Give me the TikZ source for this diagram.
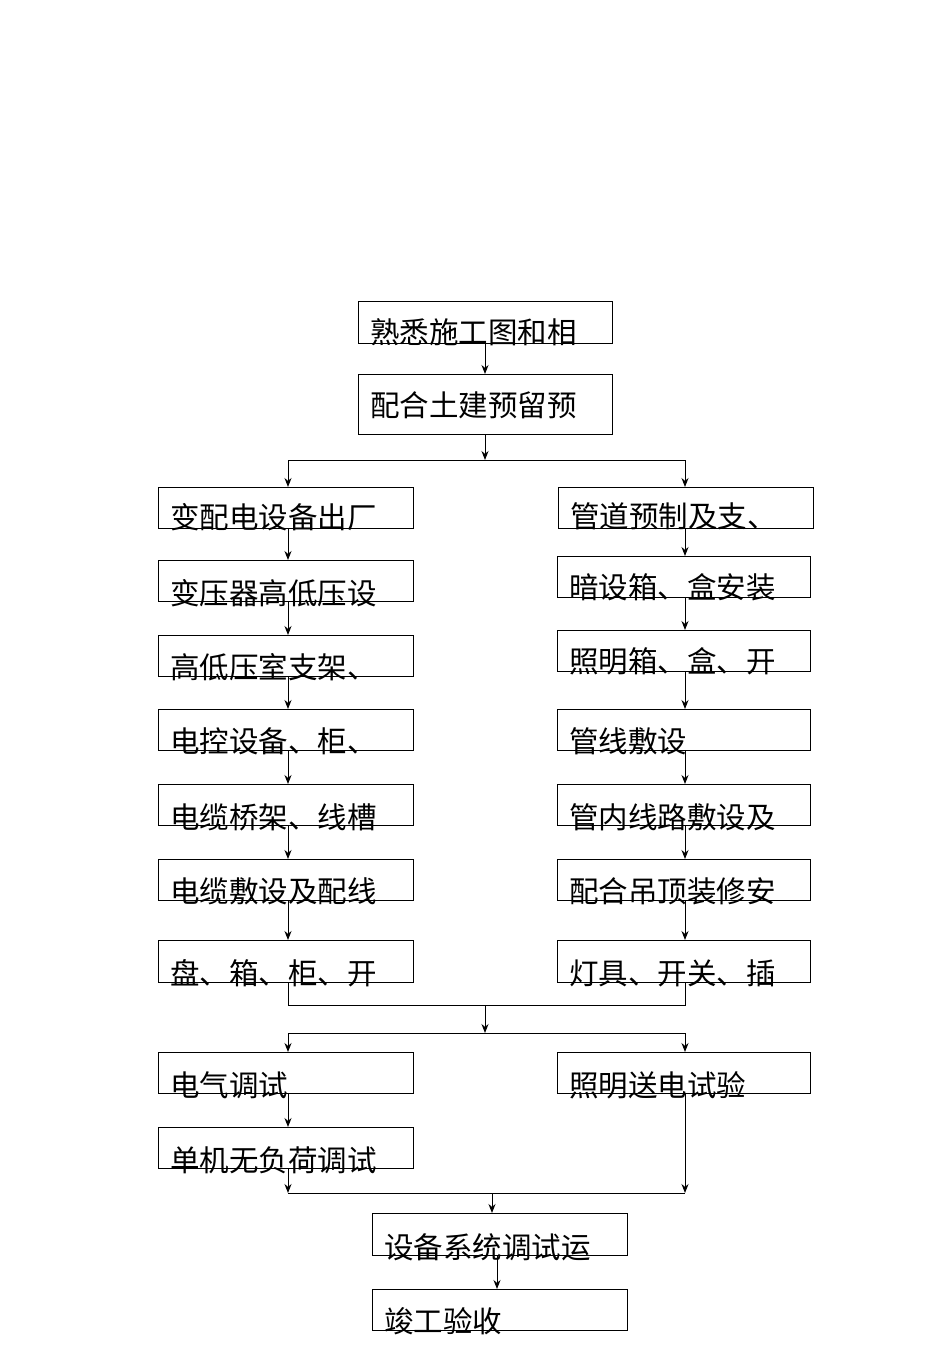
\documentclass[tikz,border=0pt]{standalone}
\usepackage{fontspec}
\newfontfamily\cjk{Noto Sans CJK SC}
\usetikzlibrary{arrows.meta}
\begin{document}
\begin{tikzpicture}[x=1pt,y=-1pt,
  bx/.style={draw,line width=1.3pt,minimum height=41pt,anchor=north west,inner sep=0},
  tx/.style={anchor=west,font=\cjk\fontsize{29.5}{29.5}\selectfont,inner sep=0},
  ar/.style={line width=1pt,-{Stealth[length=9pt,width=7pt]}},
  ln/.style={line width=1pt}]
\useasboundingbox (0,0) rectangle (950,1345);
\newcommand\bxx[7]{% name x1 y1 x2 y2 texty text
  \node[bx,minimum width=#4-#2,minimum height=#5-#3] (#1) at (#2,#3) {};
  \node[tx] (#1t) at (#2+12,#6) {#7};}
\bxx{a}{358}{301}{612}{343}{332}{熟悉施工图和相}
\bxx{b}{358}{374}{612}{434}{405}{配合土建预留预}
\bxx{l1}{158}{487}{413}{528}{517}{变配电设备出厂}
\bxx{l2}{158}{560}{413}{601}{593}{变压器高低压设}
\bxx{l3}{158}{635}{413}{676}{667}{高低压室支架、}
\bxx{l4}{158}{709}{413}{750}{741}{电控设备、柜、}
\bxx{l5}{158}{784}{413}{825}{817}{电缆桥架、线槽}
\bxx{l6}{158}{859}{413}{900}{891}{电缆敷设及配线}
\bxx{l7}{158}{940}{413}{982}{973}{盘、箱、柜、开}
\bxx{r1}{558}{487}{813}{528}{516}{管道预制及支、}
\bxx{r2}{557}{556}{810}{597}{587}{暗设箱、盒安装}
\bxx{r3}{557}{630}{810}{671}{661}{照明箱、盒、开}
\bxx{r4}{557}{709}{810}{750}{741}{管线敷设}
\bxx{r5}{557}{784}{810}{825}{817}{管内线路敷设及}
\bxx{r6}{557}{859}{810}{900}{891}{配合吊顶装修安}
\bxx{r7}{557}{940}{810}{982}{973}{灯具、开关、插}
\bxx{l8}{158}{1052}{413}{1093}{1085}{电气调试}
\bxx{r8}{557}{1052}{810}{1093}{1085}{照明送电试验}
\bxx{l9}{158}{1127}{413}{1168}{1160}{单机无负荷调试}
\bxx{c1}{372}{1213}{627}{1255}{1247}{设备系统调试运}
\bxx{c2}{372}{1289}{627}{1330}{1321}{竣工验收}
\coordinate (s1) at (485,460);
\coordinate (s1l) at (288,460);
\coordinate (s1r) at (685,460);
\draw[ar] (485,343) -- (b.north -| s1);
\draw[ar] (b.south -| s1) -- (s1);
\draw[ln] (s1l) -- (s1r);
\draw[ar] (s1l) -- (l1.north -| s1l);
\draw[ar] (s1r) -- (r1.north -| s1r);
\foreach \u/\v in {l1/l2,l2/l3,l3/l4,l4/l5,l5/l6,l6/l7,l8/l9}{\draw[ar] (\u.south -| s1l) -- (\v.north -| s1l);}
\foreach \u/\v in {r1/r2,r2/r3,r3/r4,r4/r5,r5/r6,r6/r7}{\draw[ar] (\u.south -| s1r) -- (\v.north -| s1r);}
\coordinate (m1l) at (288,1005); \coordinate (m1r) at (685,1005); \coordinate (m1) at (485,1005);
\coordinate (s2l) at (288,1033); \coordinate (s2r) at (685,1033); \coordinate (s2) at (485,1033);
\draw[ln] (l7.south -| m1l) -- (m1l) -- (m1r) -- (r7.south -| m1r);
\draw[ar] (m1) -- (s2);
\draw[ln] (s2l) -- (s2r);
\draw[ar] (s2l) -- (l8.north -| s2l);
\draw[ar] (s2r) -- (r8.north -| s2r);
\coordinate (m2l) at (288,1193); \coordinate (m2r) at (685,1193); \coordinate (m2) at (492,1193);
\draw[ar] (l9.south -| m2l) -- (m2l);
\draw[ar] (r8.south -| m2r) -- (m2r);
\draw[ln] (m2l) -- (m2r);
\draw[ar] (m2) -- (c1.north -| m2);
\draw[ar] (c1.south -| 497,0) -- (c2.north -| 497,0);
\end{tikzpicture}
\end{document}
